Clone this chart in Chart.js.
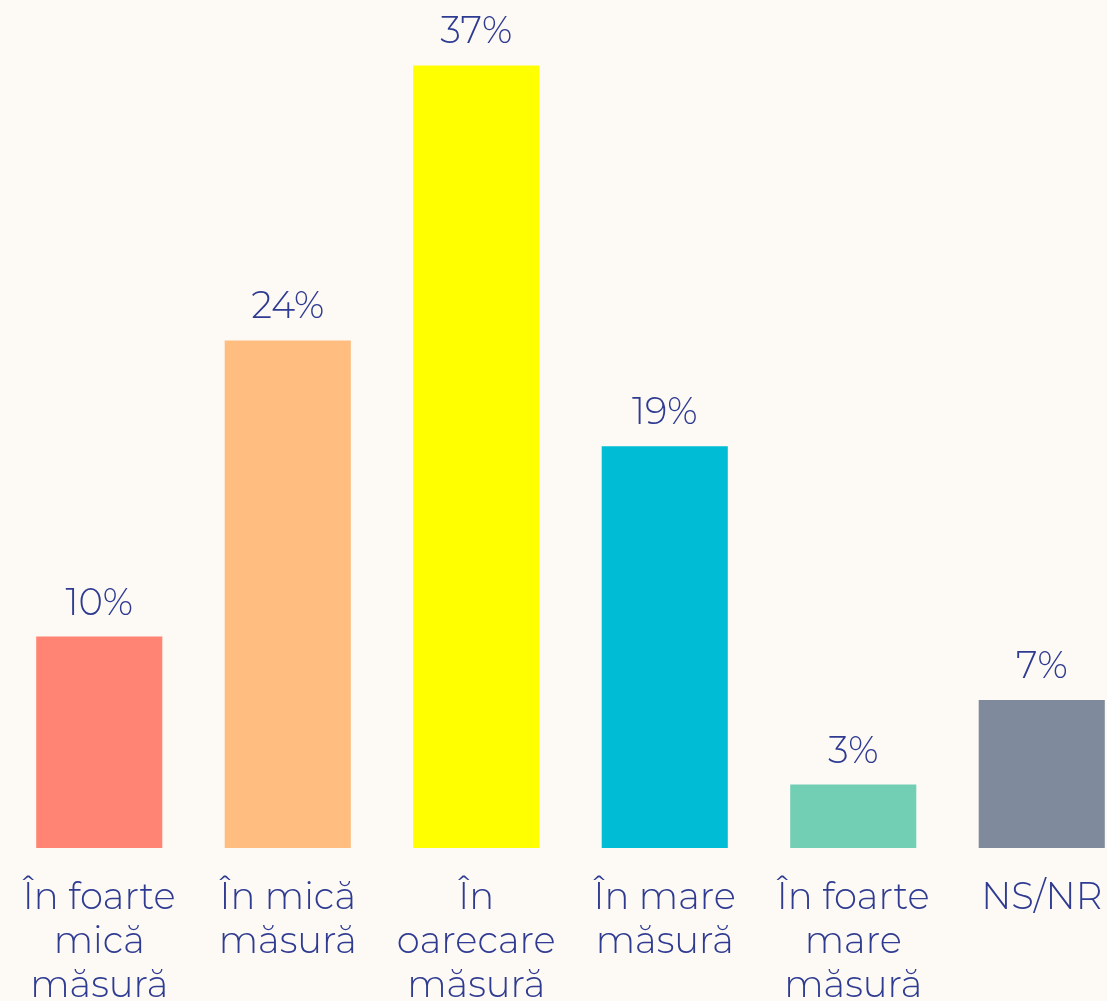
<!DOCTYPE html>
<html>
<head>
<meta charset="utf-8">
<script src="https://cdn.jsdelivr.net/npm/chart.js@4"></script>
<style>
  html, body { margin: 0; padding: 0; background: #FDF9F5; overflow: hidden; }
  #wrap { width: 1136px; height: 1001px; position: relative; }
</style>
</head>
<body>
<div id="wrap"><canvas id="chart"></canvas></div>
<script>
// Distribution of answers (percent)
const categories = [
    ['În foarte', 'mică', 'măsură'],
    ['În mică', 'măsură'],
    ['În', 'oarecare', 'măsură'],
    ['În mare', 'măsură'],
    ['În foarte', 'mare', 'măsură'],
    'NS/NR'
];
const values = [10, 24, 37, 19, 3, 7];
const barColors = ['#FF8474', '#FFBD7F', '#FFFF00', '#00BCD4', '#72CFB4', '#7F8A9C'];

const textColor = '#2E3B91';
const fontFamily = "Montserrat, 'DejaVu Sans', sans-serif";

// Draw the percentage above each bar
const valueLabels = {
    id: 'valueLabels',
    afterDatasetsDraw(chart) {
        const ctx = chart.ctx;
        const meta = chart.getDatasetMeta(0);
        ctx.save();
        ctx.fillStyle = textColor;
        ctx.font = `300 37px ${fontFamily}`;
        ctx.textAlign = 'center';
        ctx.textBaseline = 'alphabetic';
        meta.data.forEach((bar, i) => {
            ctx.fillText(`${values[i]}%`, bar.x, bar.y - 22);
        });
        ctx.restore();
    }
};

new Chart(document.getElementById('chart').getContext('2d'), {
    type: 'bar',
    data: {
        labels: categories,
        datasets: [{
            data: values,
            backgroundColor: barColors,
            borderWidth: 0,
            barPercentage: 0.669,
            categoryPercentage: 1
        }]
    },
    options: {
        responsive: true,
        maintainAspectRatio: false,
        animation: false,
        layout: { padding: { left: 5, right: 0, top: 2, bottom: 0 } },
        scales: {
            x: {
                grid: { display: false },
                border: { display: false },
                ticks: {
                    color: textColor,
                    font: { family: fontFamily, size: 37, weight: '300', lineHeight: 1.19 },
                    padding: 20,
                    maxRotation: 0,
                    autoSkip: false
                },
                afterFit: scale => { scale.height = 153; }
            },
            y: {
                display: false,
                min: 0,
                max: 40
            }
        },
        plugins: {
            legend: { display: false },
            tooltip: { enabled: false }
        }
    },
    plugins: [valueLabels]
});
</script>
</body>
</html>
